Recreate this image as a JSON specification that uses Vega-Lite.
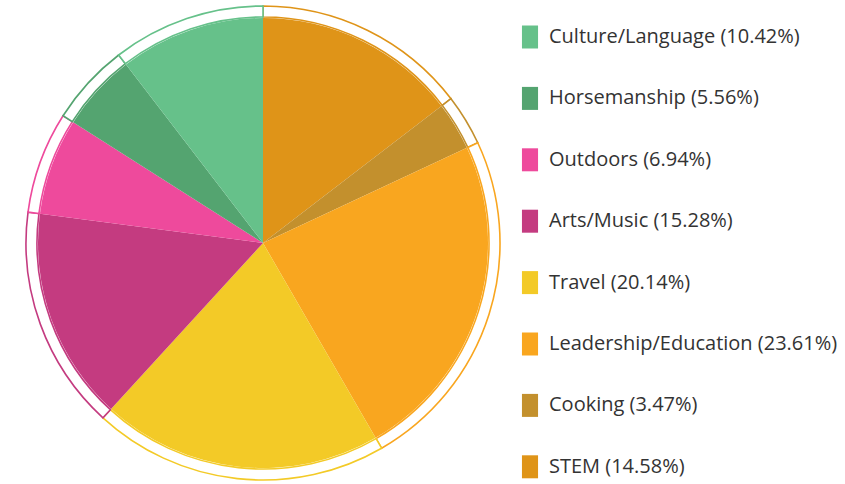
{
  "$schema": "https://vega.github.io/schema/vega-lite/v6.json",
  "width": 526,
  "height": 486,
  "autosize": {"type": "none"},
  "padding": {"left": 0, "top": 0, "right": 319, "bottom": 0},
  "background": "white",
  "data": {
    "values": [
      {"order": 1, "label": "STEM (14.58%)", "pct": 14.58},
      {"order": 2, "label": "Cooking (3.47%)", "pct": 3.47},
      {"order": 3, "label": "Leadership/Education (23.61%)", "pct": 23.61},
      {"order": 4, "label": "Travel (20.14%)", "pct": 20.14},
      {"order": 5, "label": "Arts/Music (15.28%)", "pct": 15.28},
      {"order": 6, "label": "Outdoors (6.94%)", "pct": 6.94},
      {"order": 7, "label": "Horsemanship (5.56%)", "pct": 5.56},
      {"order": 8, "label": "Culture/Language (10.42%)", "pct": 10.42}
    ]
  },
  "encoding": {
    "theta": {"field": "pct", "type": "quantitative", "stack": true},
    "order": {"field": "order", "type": "quantitative"}
  },
  "layer": [
    {
      "mark": {"type": "arc", "radius": 237, "radius2": 226, "fill": "white", "strokeWidth": 1.6},
      "encoding": {
        "stroke": {
          "field": "label", "type": "nominal",
          "scale": {
            "domain": ["Culture/Language (10.42%)", "Horsemanship (5.56%)", "Outdoors (6.94%)", "Arts/Music (15.28%)", "Travel (20.14%)", "Leadership/Education (23.61%)", "Cooking (3.47%)", "STEM (14.58%)"],
            "range": ["#66c18a", "#54a470", "#ee4a9c", "#c43b80", "#f3ca27", "#f9a61f", "#c3902d", "#df9418"]
          },
          "legend": {
            "title": null,
            "orient": "none",
            "legendX": 518.5,
            "legendY": 25.5,
            "symbolType": "M-0.7,-1H0.7V1H-0.7Z",
            "symbolSize": 529,
            "symbolStrokeWidth": 0,
            "labelOffset": 7.5,
            "rowPadding": 38.4,
            "labelFont": "Open Sans",
            "labelFontSize": 20,
            "labelColor": "#333333",
            "labelLimit": 400,
            "padding": 0
          }
        }
      }
    },
    {
      "mark": {"type": "arc", "radius": 225},
      "encoding": {
        "color": {
          "field": "label", "type": "nominal",
          "scale": {
            "domain": ["Culture/Language (10.42%)", "Horsemanship (5.56%)", "Outdoors (6.94%)", "Arts/Music (15.28%)", "Travel (20.14%)", "Leadership/Education (23.61%)", "Cooking (3.47%)", "STEM (14.58%)"],
            "range": ["#66c18a", "#54a470", "#ee4a9c", "#c43b80", "#f3ca27", "#f9a61f", "#c3902d", "#df9418"]
          },
          "legend": {
            "title": null,
            "orient": "none",
            "legendX": 518.5,
            "legendY": 25.5,
            "symbolType": "M-0.7,-1H0.7V1H-0.7Z",
            "symbolSize": 529,
            "symbolStrokeWidth": 0,
            "labelOffset": 7.5,
            "rowPadding": 38.4,
            "labelFont": "Open Sans",
            "labelFontSize": 20,
            "labelColor": "#333333",
            "labelLimit": 400,
            "padding": 0
          }
        }
      }
    }
  ],
  "config": {"view": {"stroke": null}}
}
